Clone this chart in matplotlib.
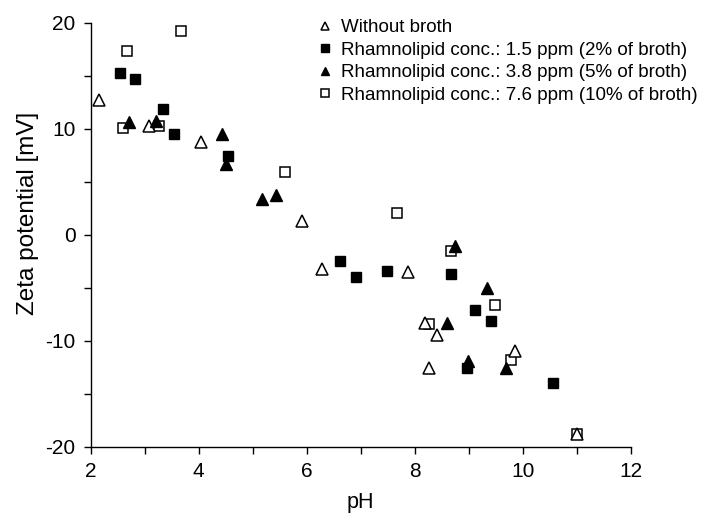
import matplotlib
matplotlib.use("Agg")
import matplotlib.pyplot as plt
from matplotlib.ticker import MultipleLocator

plt.rcParams['font.family'] = ['Liberation Sans', 'DejaVu Sans']
plt.rcParams['axes.unicode_minus'] = False

# Without broth (open triangles)
ph_none = [2.15, 3.08, 4.04, 5.91, 6.28, 7.87, 8.19, 8.41, 8.26, 9.86, 11.0]
zeta_none = [12.7, 10.3, 8.7, 1.3, -3.2, -3.5, -8.3, -9.5, -12.6, -11.0, -18.8]

# Rhamnolipid 1.5 ppm (filled squares)
ph_15 = [2.55, 2.82, 3.33, 3.55, 4.54, 6.62, 6.92, 7.49, 8.67, 9.12, 9.42, 8.97, 10.57]
zeta_15 = [15.3, 14.7, 11.9, 9.5, 7.4, -2.5, -4.0, -3.4, -3.7, -7.1, -8.1, -12.6, -14.0]

# Rhamnolipid 3.8 ppm (filled triangles)
ph_38 = [2.70, 3.20, 4.44, 4.50, 5.18, 5.43, 8.75, 8.59, 9.34, 8.98, 9.70]
zeta_38 = [10.6, 10.7, 9.5, 6.7, 3.4, 3.7, -1.1, -8.3, -5.0, -11.9, -12.6]

# Rhamnolipid 7.6 ppm (open squares)
ph_76 = [2.68, 3.67, 2.59, 3.27, 5.59, 7.67, 8.67, 9.49, 8.27, 9.78, 11.0]
zeta_76 = [17.3, 19.2, 10.1, 10.25, 5.9, 2.0, -1.5, -6.6, -8.4, -11.8, -18.8]

labels = ["Without broth",
          "Rhamnolipid conc.: 1.5 ppm (2% of broth)",
          "Rhamnolipid conc.: 3.8 ppm (5% of broth)",
          "Rhamnolipid conc.: 7.6 ppm (10% of broth)"]

fig = plt.figure(figsize=(7.11, 5.23), dpi=100)
ax = fig.add_axes([0.1276, 0.1459, 0.887 - 0.1276, 0.9566 - 0.1459])

h0, = ax.plot(ph_none, zeta_none, linestyle='none', marker='^', markersize=8,
              markerfacecolor='white', markeredgecolor='black', markeredgewidth=1.1,
              label=labels[0], zorder=3)
h1, = ax.plot(ph_15, zeta_15, linestyle='none', marker='s', markersize=7,
              markerfacecolor='black', markeredgecolor='black',
              label=labels[1], zorder=4)
h2, = ax.plot(ph_38, zeta_38, linestyle='none', marker='^', markersize=8,
              markerfacecolor='black', markeredgecolor='black',
              label=labels[2], zorder=5)
h3, = ax.plot(ph_76, zeta_76, linestyle='none', marker='s', markersize=7,
              markerfacecolor='white', markeredgecolor='black', markeredgewidth=1.1,
              label=labels[3], zorder=2)

ax.set_xlim(2, 12)
ax.set_ylim(-20, 20)
ax.xaxis.set_major_locator(MultipleLocator(2))
ax.xaxis.set_minor_locator(MultipleLocator(1))
ax.yaxis.set_major_locator(MultipleLocator(10))
ax.yaxis.set_minor_locator(MultipleLocator(5))
ax.tick_params(which='both', direction='out', length=5, width=1, labelsize=15, pad=6)
for s in ['top', 'right']:
    ax.spines[s].set_visible(False)
for s in ['left', 'bottom']:
    ax.spines[s].set_linewidth(1)

ax.set_xlabel("pH", fontsize=15.5, labelpad=8)
ax.set_ylabel("Zeta potential [mV]", fontsize=17.5, labelpad=6)
ax.yaxis.set_label_coords(-0.096, 0.55)

leg = ax.legend(handles=[h0, h1, h2, h3], loc='upper left',
                bbox_to_anchor=(0.410, 1.026), frameon=False, fontsize=13.5,
                markerscale=0.75, handlelength=0.6, handletextpad=0.55,
                labelspacing=0.29, borderaxespad=0)

fig.savefig("out.png", dpi=100)
